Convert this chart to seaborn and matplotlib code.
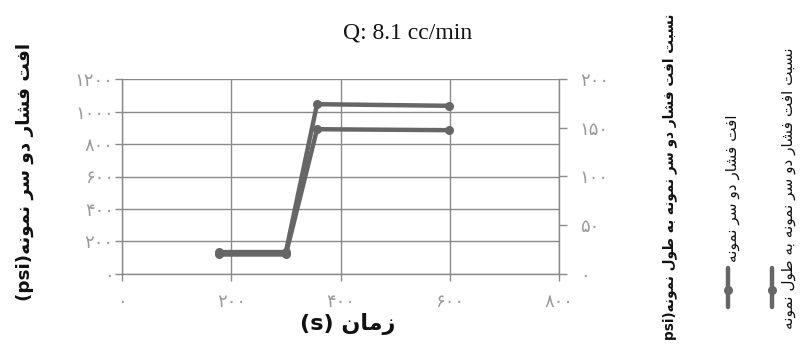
import matplotlib
matplotlib.use("Agg")
import matplotlib.pyplot as plt
from matplotlib.lines import Line2D
from matplotlib.ticker import FuncFormatter, MultipleLocator
import seaborn as sns
import pandas as pd

# ---- data -------------------------------------------------------------
time_s = [178, 300, 357, 599]
pressure_drop_psi = [135, 135, 1045, 1035]
drop_per_length = [20, 20, 148.5, 147.5]

title_text = "Q: 8.1 cc/min"
xlabel_fa = "زمان"
left_label_fa = "افت فشار دو سر نمونه"
right_label_fa = "نسبت افت فشار دو سر نمونه به طول نمونه"
series_names = ["افت فشار دو سر نمونه", "نسبت افت فشار دو سر نمونه به طول نمونه"]

# ---- minimal Arabic-script shaping (presentation forms) + RTL ordering --
FORMS = {
    "ا": ("\uFE8D", "\uFE8E", None, None),
    "ب": ("\uFE8F", "\uFE90", "\uFE91", "\uFE92"),
    "ت": ("\uFE95", "\uFE96", "\uFE97", "\uFE98"),
    "د": ("\uFEA9", "\uFEAA", None, None),
    "ر": ("\uFEAD", "\uFEAE", None, None),
    "ز": ("\uFEAF", "\uFEB0", None, None),
    "س": ("\uFEB1", "\uFEB2", "\uFEB3", "\uFEB4"),
    "ش": ("\uFEB5", "\uFEB6", "\uFEB7", "\uFEB8"),
    "ط": ("\uFEC1", "\uFEC2", "\uFEC3", "\uFEC4"),
    "ف": ("\uFED1", "\uFED2", "\uFED3", "\uFED4"),
    "ل": ("\uFEDD", "\uFEDE", "\uFEDF", "\uFEE0"),
    "م": ("\uFEE1", "\uFEE2", "\uFEE3", "\uFEE4"),
    "ن": ("\uFEE5", "\uFEE6", "\uFEE7", "\uFEE8"),
    "ه": ("\uFEE9", "\uFEEA", "\uFEEB", "\uFEEC"),
    "و": ("\uFEED", "\uFEEE", None, None),
}


def shape(text):
    out = []
    for i, ch in enumerate(text):
        f = FORMS.get(ch)
        if f is None:
            out.append(ch)
            continue
        prev = text[i - 1] if i > 0 else None
        nxt = text[i + 1] if i + 1 < len(text) else None
        join_prev = prev in FORMS and FORMS[prev][2] is not None
        join_next = nxt in FORMS and f[2] is not None
        if join_prev and join_next:
            out.append(f[3])
        elif join_prev:
            out.append(f[1])
        elif join_next:
            out.append(f[2])
        else:
            out.append(f[0])
    return "".join(out)


def rtl(text):
    return shape(text)[::-1]


FA_DIGITS = str.maketrans("0123456789", "۰۱۲۳۴۵۶۷۸۹")


def fa_num(v, pos=None):
    return str(int(round(v))).translate(FA_DIGITS)


# ---- style ------------------------------------------------------------
sns.set_style("white")
plt.rcParams["font.family"] = ["DejaVu Sans"]

LINE_C = "#666666"
GRID_C = "#8a8a8a"
TICK_C = "#9a9a9a"

df = pd.DataFrame({"time": time_s, "dp": pressure_drop_psi, "ratio": drop_per_length})

fig = plt.figure(figsize=(8.0, 3.53), dpi=100)
ax = fig.add_axes([0.1525, 0.2238, 0.5463, 0.5524])
ax2 = ax.twinx()

sns.lineplot(data=df, x="time", y="dp", ax=ax, color=LINE_C, lw=3.2,
             marker="o", markersize=6.5, markeredgewidth=0, legend=False)
sns.lineplot(data=df, x="time", y="ratio", ax=ax2, color=LINE_C, lw=3.2,
             marker="o", markersize=6.5, markeredgewidth=0, legend=False)

ax.set_xlim(0, 800)
ax.set_ylim(0, 1200)
ax2.set_ylim(0, 200)
ax.xaxis.set_major_locator(MultipleLocator(200))
ax.yaxis.set_major_locator(MultipleLocator(200))
ax2.yaxis.set_major_locator(MultipleLocator(50))
ax.xaxis.set_major_formatter(FuncFormatter(fa_num))
ax.yaxis.set_major_formatter(FuncFormatter(fa_num))
ax2.yaxis.set_major_formatter(FuncFormatter(fa_num))

ax.grid(True, color=GRID_C, lw=1.0)
ax2.grid(False)
ax.set_axisbelow(True)
ax.set_xlabel("")
ax.set_ylabel("")
ax2.set_ylabel("")

for a in (ax, ax2):
    a.spines["top"].set_visible(False)
    for side in ("left", "right", "bottom"):
        a.spines[side].set_color(GRID_C)
        a.spines[side].set_linewidth(1.0)
ax.spines["right"].set_visible(False)
ax2.spines["left"].set_visible(False)
ax2.spines["bottom"].set_visible(False)

ax.tick_params(axis="x", direction="out", length=5, width=1.0, color=GRID_C,
               labelcolor=TICK_C, labelsize=13, pad=9, bottom=True)
ax.tick_params(axis="y", direction="out", length=5, width=1.0, color=GRID_C,
               labelcolor=TICK_C, labelsize=13, pad=1, left=True)
ax2.tick_params(axis="y", direction="out", length=6, width=1.0, color=GRID_C,
                labelcolor=TICK_C, labelsize=13, pad=9, right=True)

# ---- titles and axis labels -------------------------------------------
fig.text(408 / 800, 1 - 33 / 353, title_text, ha="center", va="center",
         family="Liberation Serif", fontsize=17, color="#111111")
fig.text(348 / 800, 1 - 324 / 353, "(s) " + rtl(xlabel_fa), ha="center",
         va="center", fontsize=16, fontweight="bold", color="#111111")
fig.text(25 / 800, 1 - 172 / 353, "(psi)" + rtl(left_label_fa), rotation=90,
         ha="center", va="center", fontsize=13.2, fontweight="bold", color="#111111")
fig.text(670 / 800, 1 - 177 / 353, "psi)" + rtl(right_label_fa), rotation=90,
         ha="center", va="center", fontsize=9.8, fontweight="bold", color="#111111")

# ---- vertical legend ---------------------------------------------------
for x_line, x_text, name in ((728, 732, series_names[0]), (772, 789, series_names[1])):
    ys = [1 - 268 / 353, 1 - 290 / 353, 1 - 307 / 353]
    fig.add_artist(Line2D([x_line / 800] * 3, ys, transform=fig.transFigure,
                          color=LINE_C, lw=3.2, marker="o", markersize=6.5,
                          markeredgewidth=0, markevery=[1]))
    fig.text(x_text / 800, 1 - 188 / 353, rtl(name), rotation=90, ha="center",
             va="center", fontsize=11, color="#111111")

fig.savefig("out.png", dpi=100, facecolor="white")
